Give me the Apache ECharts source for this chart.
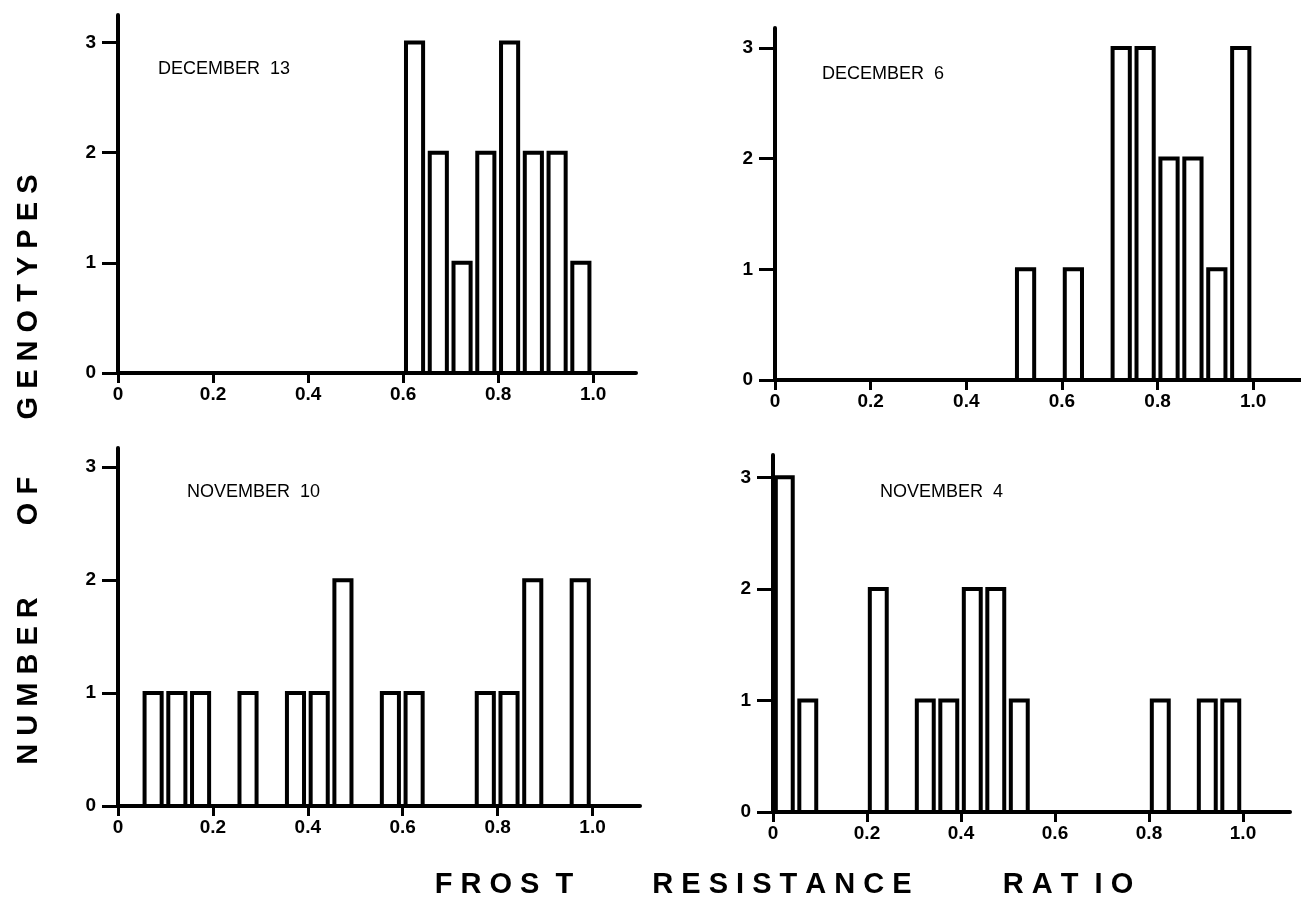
<!DOCTYPE html>
<html>
<head>
<meta charset="utf-8">
<script src="https://cdn.jsdelivr.net/npm/echarts@6/dist/echarts.min.js"></script>
<style>
html,body{margin:0;padding:0;background:#fff;}
#chart{width:1301px;height:900px;}
</style>
</head>
<body>
<div id="chart"></div>
<script>
// ---- data: left edge of each 0.05-wide frost-resistance class and number of genotypes ----
const dec13Bins   = [0.60, 0.65, 0.70, 0.75, 0.80, 0.85, 0.90, 0.95];
const dec13Counts = [3, 2, 1, 2, 3, 2, 2, 1];

const dec6Bins    = [0.50, 0.60, 0.70, 0.75, 0.80, 0.85, 0.90, 0.95];
const dec6Counts  = [1, 1, 3, 3, 2, 2, 1, 3];

const nov10Bins   = [0.05, 0.10, 0.15, 0.25, 0.35, 0.40, 0.45, 0.55, 0.60, 0.75, 0.80, 0.85, 0.95];
const nov10Counts = [1, 1, 1, 1, 1, 1, 2, 1, 1, 1, 1, 2, 2];

const nov4Bins    = [0.00, 0.05, 0.20, 0.30, 0.35, 0.40, 0.45, 0.50, 0.80, 0.90, 0.95];
const nov4Counts  = [3, 1, 2, 1, 1, 2, 2, 1, 1, 1, 1];

const xTicks = [0, 0.2, 0.4, 0.6, 0.8, 1.0];
const yTicks = [0, 1, 2, 3];

const panelTitles = ['DECEMBER  13', 'DECEMBER  6', 'NOVEMBER  10', 'NOVEMBER  4'];

const BAR_OFFSET = 0.006;
const BAR_WIDTH = 0.036;

const panels = [
  {bins: dec13Bins, counts: dec13Counts, grid: {left:118, top:15,  width:518, height:358}, xMax:1.09, yMax:3.25, title: panelTitles[0], tx:158, ty:70},
  {bins: dec6Bins,  counts: dec6Counts,  grid: {left:775, top:28,  width:526, height:352}, xMax:1.10, yMax:3.18, title: panelTitles[1], tx:822, ty:75},
  {bins: nov10Bins, counts: nov10Counts, grid: {left:118, top:448, width:522, height:358}, xMax:1.10, yMax:3.17, title: panelTitles[2], tx:187, ty:493},
  {bins: nov4Bins,  counts: nov4Counts,  grid: {left:773, top:455, width:517, height:357}, xMax:1.10, yMax:3.20, title: panelTitles[3], tx:880, ty:493}
];

const FONT = '"Liberation Sans", Arial, Helvetica, sans-serif';

const grids = [], xAxes = [], yAxes = [], series = [], graphics = [];
panels.forEach((p, i) => {
  grids.push(Object.assign({containLabel:false}, p.grid));
  xAxes.push({
    type:'value', gridIndex:i, min:0, max:p.xMax,
    axisLine:{show:true, onZero:false, lineStyle:{color:'#000', width:4}},
    axisTick:{show:true, length:10, customValues:xTicks, lineStyle:{color:'#000', width:3}},
    axisLabel:{show:true, customValues:xTicks, margin:12, color:'#000', fontFamily:FONT, fontWeight:'bold', fontSize:19,
      formatter: v => v === 0 ? '0' : v.toFixed(1)},
    splitLine:{show:false}
  });
  yAxes.push({
    type:'value', gridIndex:i, min:0, max:p.yMax,
    axisLine:{show:true, onZero:false, lineStyle:{color:'#000', width:4}},
    axisTick:{show:true, length:16, customValues:yTicks, lineStyle:{color:'#000', width:3}},
    axisLabel:{show:true, customValues:yTicks, margin:22, color:'#000', fontFamily:FONT, fontWeight:'bold', fontSize:19},
    splitLine:{show:false}
  });
  series.push({
    type:'custom', xAxisIndex:i, yAxisIndex:i,
    data: p.bins.map((b, k) => [b, p.counts[k]]),
    renderItem: (params, api) => {
      const x = api.value(0), y = api.value(1);
      const a = api.coord([x + BAR_OFFSET, y]);
      const b = api.coord([x + BAR_OFFSET + BAR_WIDTH, 0]);
      return {type:'rect', shape:{x:a[0], y:a[1], width:b[0]-a[0], height:b[1]-a[1]},
        style:{fill:'#fff', stroke:'#000', lineWidth:4}};
    }
  });
  graphics.push({type:'text', left:p.tx, top:p.ty - 10,
    style:{text:p.title, fill:'#000', font:'18px ' + FONT}});
});

// big axis titles (letter-spaced)
const bigFont = 'bold 29px ' + FONT;
const xTitleWords = [['F R O S  T', 504], ['R E S I S T A N C E', 782], ['R A T  I O', 1068]];
xTitleWords.forEach(w => graphics.push({type:'text', x:w[1], y:885,
  style:{text:w[0], fill:'#000', font:bigFont, align:'center', verticalAlign:'middle'}}));
const yTitleWords = [['G E N O T Y P E S', 297], ['O F', 501], ['N U M B E R', 681]];
yTitleWords.forEach(w => graphics.push({type:'text', x:29, y:w[1], rotation:Math.PI/2,
  style:{text:w[0], fill:'#000', font:bigFont, align:'center', verticalAlign:'middle'}}));

const chart = echarts.init(document.getElementById('chart'), null, {renderer:'canvas'});
chart.setOption({
  animation:false,
  backgroundColor:'#fff',
  grid:grids, xAxis:xAxes, yAxis:yAxes, series:series,
  graphic:graphics
});
</script>
</body>
</html>
